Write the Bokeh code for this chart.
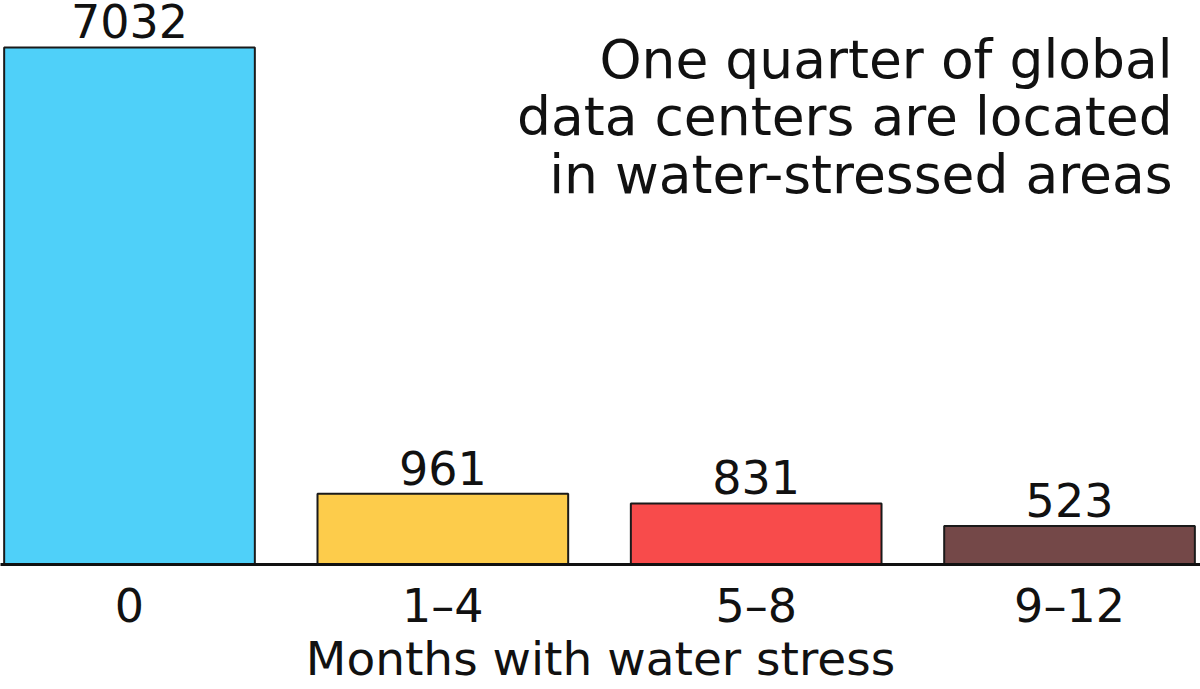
from bokeh.plotting import figure
from bokeh.models import Range1d, FixedTicker, Label, LabelSet, ColumnDataSource
from bokeh.core.properties import value
from bokeh.embed import file_html
from bokeh.resources import INLINE

# Number of data centers by months per year under water stress
categories = ["0", "1–4", "5–8", "9–12"]
counts = [7032, 961, 831, 523]
bar_colors = ["#4fd0f9", "#fdcc4b", "#f84b4b", "#744848"]
x_title = "Months with water stress"

FONT = "DejaVu Sans"
INK = "#111111"

positions = list(range(len(categories)))
source = ColumnDataSource(dict(
    x=positions,
    count=counts,
    label=[str(c) for c in counts],
    color=bar_colors,
))

p = figure(
    width=1200, height=689,
    x_range=Range1d(-0.4117, 3.418),
    y_range=Range1d(0, 7671),
    output_backend="svg",
    toolbar_location=None,
    y_axis_location=None,
    min_border_left=0, min_border_right=0,
    min_border_top=0, min_border_bottom=125,
)
p.outline_line_color = None
p.grid.visible = False
p.background_fill_color = "white"
p.border_fill_color = "white"

p.vbar(x="x", top="count", width=0.8, bottom=0, source=source,
       fill_color="color", line_color="#1a1a1a", line_width=2)

# value annotations above each bar
p.add_layout(LabelSet(x="x", y="count", text="label", source=source,
                      text_align="center", text_baseline="alphabetic",
                      y_offset=9, text_font=value(FONT), text_font_size="46px",
                      text_color=INK))

ax = p.xaxis[0]
ax.ticker = FixedTicker(ticks=positions)
ax.major_label_overrides = {i: c for i, c in enumerate(categories)}
ax.major_tick_line_color = None
ax.minor_tick_line_color = None
ax.major_tick_out = 0
ax.major_tick_in = 0
ax.axis_line_color = INK
ax.axis_line_width = 3
ax.major_label_text_font = FONT
ax.major_label_text_font_size = "46px"
ax.major_label_text_color = INK
ax.major_label_standoff = 14
ax.axis_label = x_title
ax.axis_label_text_font = FONT
ax.axis_label_text_font_size = "47px"
ax.axis_label_text_font_style = "normal"
ax.axis_label_text_color = INK
ax.axis_label_standoff = -5

# headline, right-aligned in the upper right of the plot
headline = ["One quarter of global",
            "data centers are located",
            "in water-stressed areas"]
for i, line in enumerate(headline):
    p.add_layout(Label(x=3.329, y=6869 - 782 * i,
                       text=line, text_align="right", text_baseline="alphabetic",
                       text_font=FONT, text_font_size="53.5px", text_color=INK))

open("out.html", "w").write(file_html(p, INLINE))
